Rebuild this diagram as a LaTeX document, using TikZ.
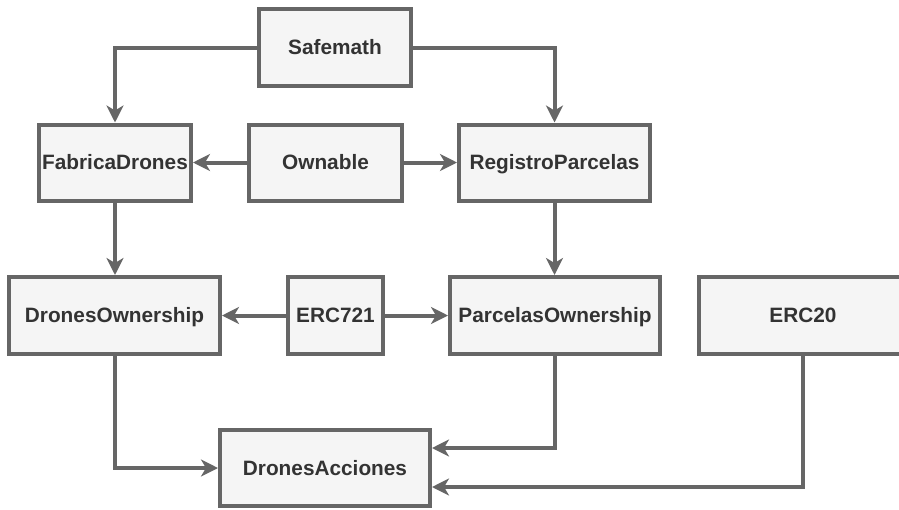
\documentclass[tikz,border=0pt]{standalone}
\usepackage{fontspec}
\setmainfont{Liberation Sans}
\usetikzlibrary{arrows.meta}
\definecolor{strokec}{HTML}{666666}
\definecolor{fillc}{HTML}{F5F5F5}
\definecolor{textc}{HTML}{333333}
\tikzset{
  box/.style={draw=strokec, fill=fillc, line width=4pt, minimum height=76pt,
    inner sep=0pt, text height=14.5pt, text depth=0pt, text=textc,
    font=\fontsize{20.8}{24}\selectfont\bfseries},
  conn/.style={draw=strokec, line width=4pt,
    -{Stealth[length=17pt, width=17pt, inset=5pt]}},
}
\begin{document}
\begin{tikzpicture}[x=1pt, y=-1pt]
\useasboundingbox (0,0) rectangle (899,509);
\clip (0,0) rectangle (899,509);
\node[box, minimum width=152pt, minimum height=77pt] (sm) at (335,47.5) {Safemath};
\node[box, minimum width=152pt] (fd) at (115,162.5) {FabricaDrones};
\node[box, minimum width=153pt] (ow) at (325.5,162.5) {Ownable};
\node[box, minimum width=191pt] (rp) at (554.5,162.5) {RegistroParcelas};
\node[box, minimum width=211pt, minimum height=77pt] (do) at (114.5,315.5) {DronesOwnership};
\node[box, minimum width=95pt, minimum height=77pt] (e7) at (335.5,315.5) {ERC721};
\node[box, minimum width=210pt, minimum height=77pt] (po) at (555,315.5) {ParcelasOwnership};
\node[box, minimum width=208pt, minimum height=77pt] (e20) at (803,315.5) {ERC20};
\node[box, minimum width=210pt] (da) at (325,468) {DronesAcciones};
\coordinate (dai) at ([yshift=20pt]da.east);
\coordinate (daj) at ([yshift=-19pt]da.east);
\draw[conn] (sm.west) -| (fd.north);
\draw[conn] (sm.east) -| (rp.north);
\draw[conn] (ow.west) -- (fd.east);
\draw[conn] (ow.east) -- (rp.west);
\draw[conn] (fd.south) -- (fd.south |- do.north);
\draw[conn] (rp.south) -- (rp.south |- po.north);
\draw[conn] (e7.west) -- (do.east);
\draw[conn] (e7.east) -- (po.west);
\draw[conn] (do.south) |- (da.west);
\draw[conn] (po.south) |- (dai);
\draw[conn] (e20.south) |- (daj);
\end{tikzpicture}
\end{document}
